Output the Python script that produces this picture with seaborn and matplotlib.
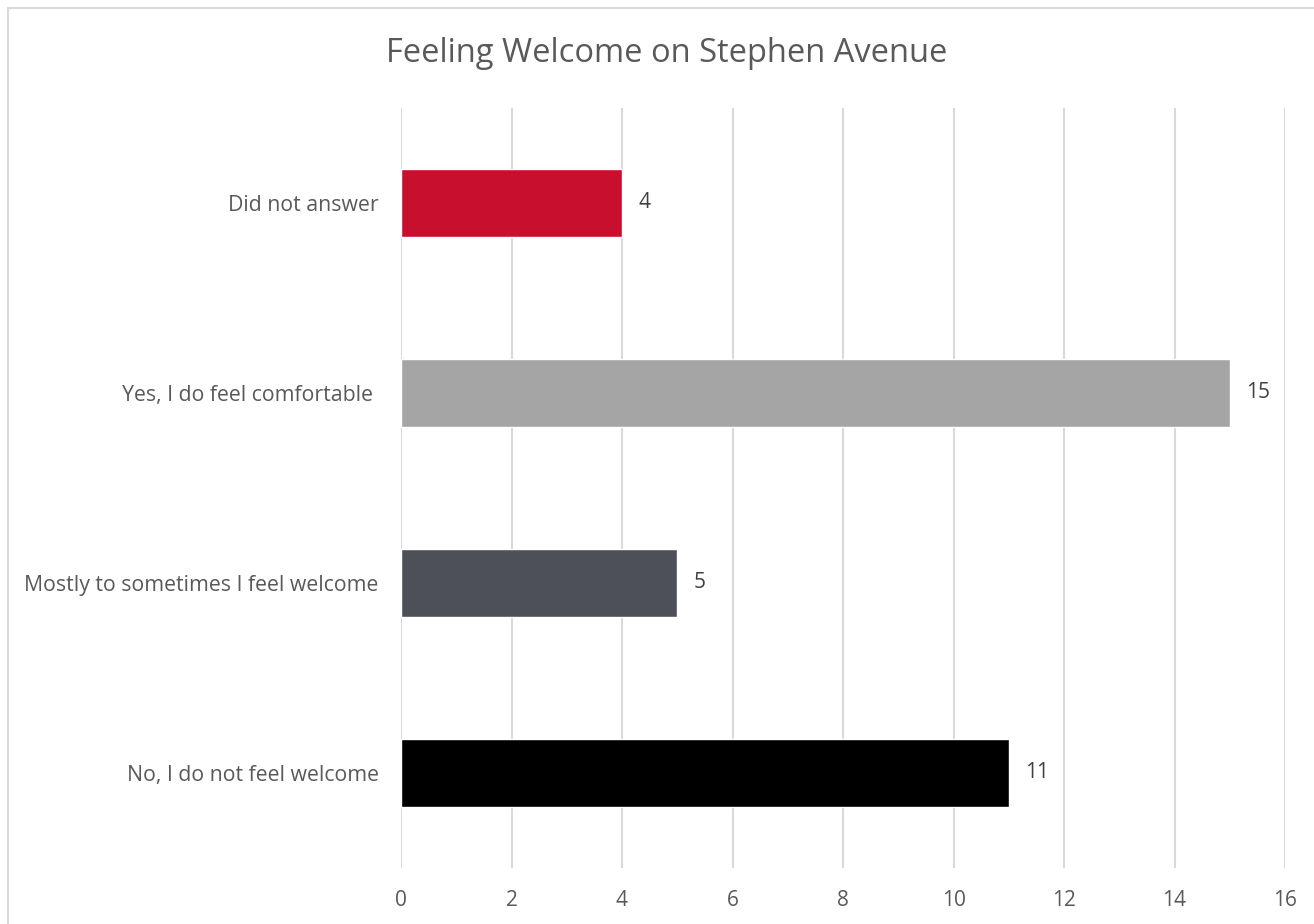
import matplotlib
matplotlib.use("Agg")
import matplotlib.pyplot as plt
from matplotlib.patches import Rectangle
import seaborn as sns
import pandas as pd

categories = [
    "Did not answer",
    "Yes, I do feel comfortable ",
    "Mostly to sometimes I feel welcome",
    "No, I do not feel welcome",
]
counts = [4, 15, 5, 11]
bar_colors = ["#C8102E", "#A5A5A5", "#4D5057", "#000000"]
x_ticks = [0, 2, 4, 6, 8, 10, 12, 14, 16]
title = "Feeling Welcome on Stephen Avenue"

sns.set_theme(style="white")
plt.rcParams["font.family"] = ["Open Sans", "DejaVu Sans"]

W, H = 1314, 924
fig = plt.figure(figsize=(W / 100, H / 100), dpi=100)
ax = fig.add_axes([401 / W, 1 - 868 / H, (1285 - 401) / W, (868 - 108) / H])

df = pd.DataFrame({"category": categories, "count": counts})
sns.barplot(data=df, y="category", x="count", hue="category",
            palette=bar_colors, order=categories, hue_order=categories,
            width=0.358, legend=False, ax=ax, saturation=1, zorder=3)

ax.set_xlim(0, 16)
ax.set_xticks(x_ticks)
ax.set_xticklabels([str(t) for t in x_ticks])
ax.grid(axis="x", color="#D9D9D9", linewidth=1.5, zorder=0)
ax.set_axisbelow(True)
for s in ax.spines.values():
    s.set_visible(False)
ax.set_xlabel("")
ax.set_ylabel("")
ax.tick_params(axis="both", length=0, labelsize=15, labelcolor="#595959")
ax.tick_params(axis="y", labelsize=15.3)
ax.tick_params(axis="x", pad=16)
ax.tick_params(axis="y", pad=16)

for i, v in enumerate(counts):
    ax.text(v + 0.3, i, str(v), va="center", ha="left",
            fontsize=15, color="#404040")

fig.text(667 / W, 1 - 54 / H, title, ha="center", va="center",
         fontsize=23.5, color="#595959")

# light frame around the chart area
fig.patches.append(Rectangle((8 / W, -0.05), 1.1, 1 - 8 / H + 0.05,
                             transform=fig.transFigure, fill=False,
                             edgecolor="#D9D9D9", linewidth=1.5))

fig.savefig("out.png", dpi=100, facecolor="white")
